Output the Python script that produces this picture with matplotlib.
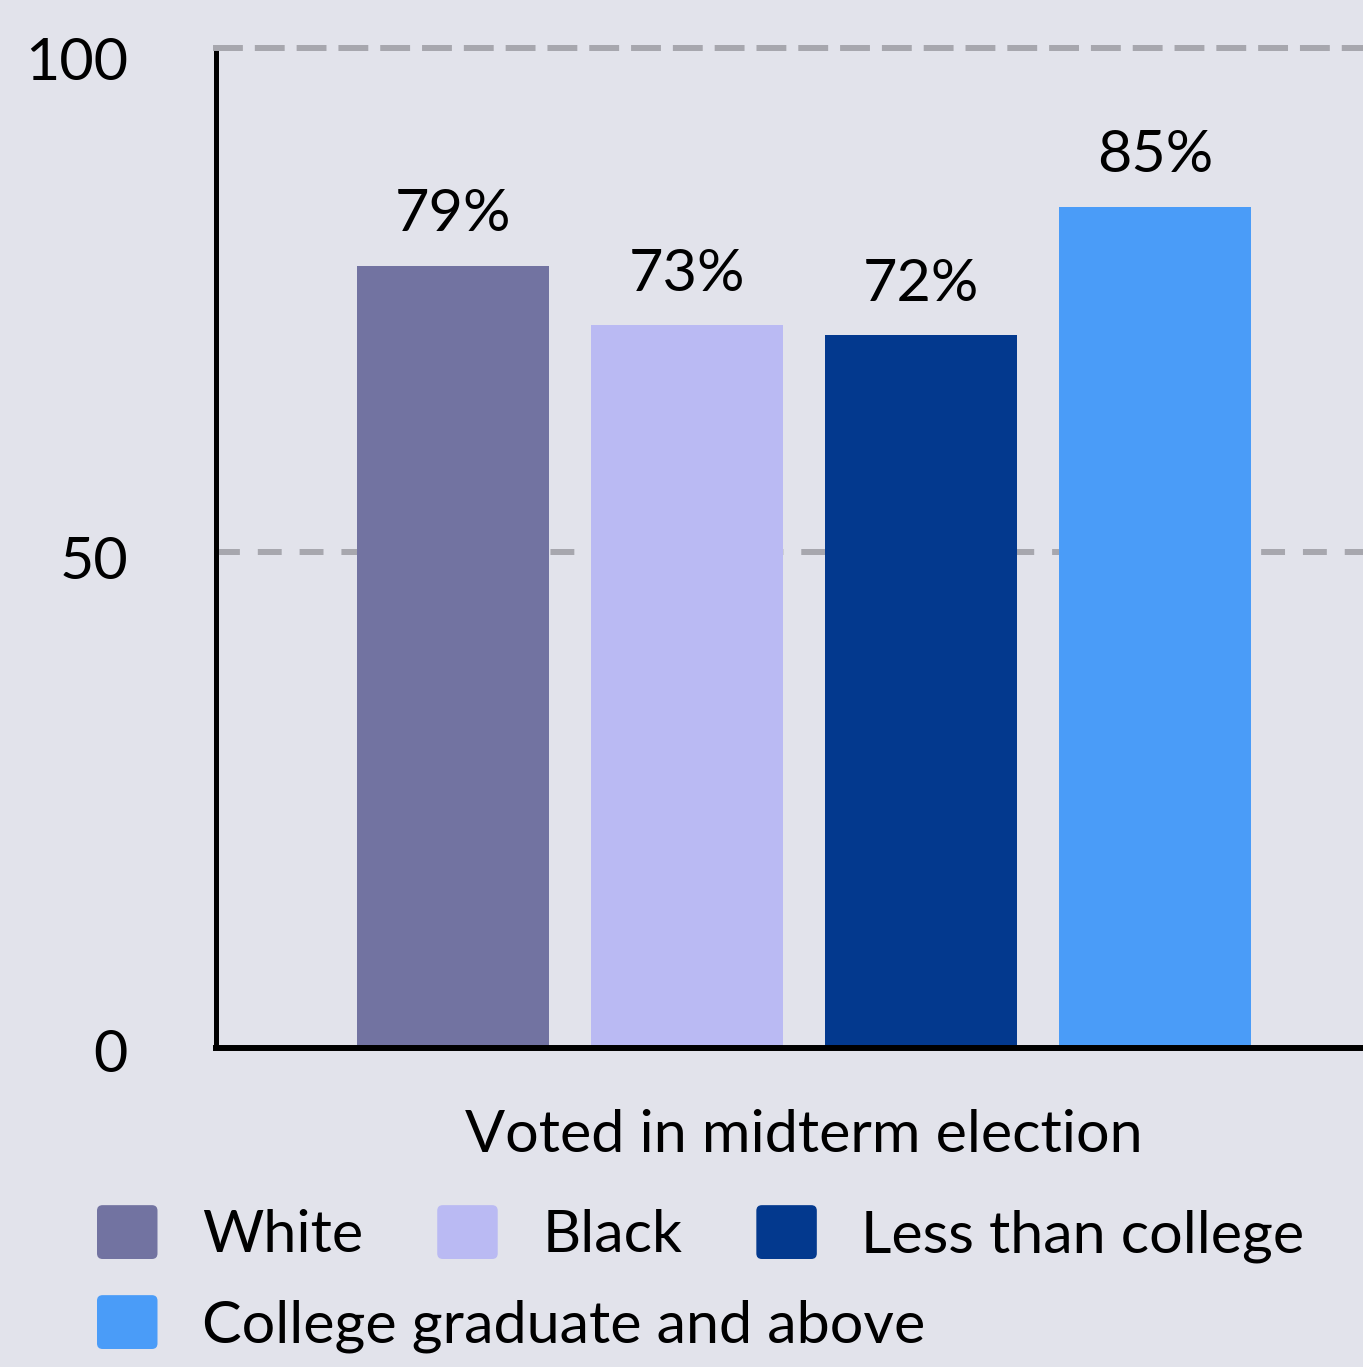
import matplotlib.pyplot as plt
import matplotlib.transforms as mtransforms
from matplotlib.patches import FancyBboxPatch, Rectangle
from matplotlib.legend_handler import HandlerPatch

groups = ["White", "Black", "Less than college", "College graduate and above"]
values = [79, 73, 72, 85]
colors = ["#7273a1", "#babaf3", "#03398e", "#4a9cf8"]
category = "Voted in midterm election"
yticks = [0, 50, 100]

plt.rcParams['font.family'] = ['Lato', 'DejaVu Sans']
bg = "#e2e3eb"
grid_col = "#a7a7ae"
fs = 42.7


class RoundHandler(HandlerPatch):
    def create_artists(self, legend, orig_handle, xdescent, ydescent,
                       width, height, fontsize, trans):
        p = FancyBboxPatch((-xdescent, -ydescent), width, height,
                           boxstyle="round,pad=0,rounding_size=4",
                           facecolor=orig_handle.get_facecolor(),
                           edgecolor='none', transform=trans)
        return [p]


fig = plt.figure(figsize=(13.63, 13.67), dpi=100, facecolor=bg)
ax = fig.add_axes([215.5 / 1363, 321 / 1367, 1 - 215.5 / 1363, 998 / 1367])
ax.set_facecolor(bg)

step = 0.2
width = step * 192 / 234
handles = []
for i, (val, col, name) in enumerate(zip(values, colors, groups)):
    x = (i - 1.5) * step
    b = ax.bar(x, val, width=width, color=col, label=name, zorder=2)
    handles.append(b.patches[0])
    ax.annotate(f"{val}%", (x, val), xytext=(0, 25), textcoords='offset points',
                ha='center', va='baseline', fontsize=fs)

ax.axhline(50, color=grid_col, lw=4.3, ls=(0, (4, 3)), zorder=0)

ax.set_xlim(-0.503, 0.4778)
ax.set_ylim(0, 101.1)
ax.set_xticks([0])
ax.set_xticklabels([category])
ax.set_yticks(yticks)
ax.set_yticklabels([str(t) for t in yticks])
ax.tick_params(axis='x', length=0, pad=44, labelsize=fs)
ax.tick_params(axis='y', length=0, pad=63, labelsize=fs)
for lab in ax.get_yticklabels()[:2]:
    lab.set_transform(lab.get_transform() +
                      mtransforms.ScaledTranslation(0, -5 / 100, fig.dpi_scale_trans))

ax.spines['right'].set_visible(False)
ax.spines['top'].set_color(grid_col)
ax.spines['top'].set_linewidth(4.3)
ax.spines['top'].set_linestyle((0, (4, 3)))
ax.spines['left'].set_color('black')
ax.spines['left'].set_linewidth(3.6)
ax.spines['bottom'].set_color('black')
ax.spines['bottom'].set_linewidth(4.3)
ax.spines['bottom'].set_position(('outward', 1.5))

leg_kw = dict(frameon=False, fontsize=fs, handlelength=1.02, handleheight=1.02,
              handletextpad=0.75, columnspacing=1.25, borderpad=0,
              borderaxespad=0, loc='center left',
              handler_map={Rectangle: RoundHandler()})
fig.legend(handles[:3], groups[:3], ncol=3,
           bbox_to_anchor=(97 / 1363, 1 - 1234 / 1367), **leg_kw)
fig.legend(handles[3:], groups[3:], ncol=1,
           bbox_to_anchor=(97 / 1363, 1 - 1324 / 1367), **leg_kw)

fig.savefig("out.png", dpi=100, facecolor=bg)
